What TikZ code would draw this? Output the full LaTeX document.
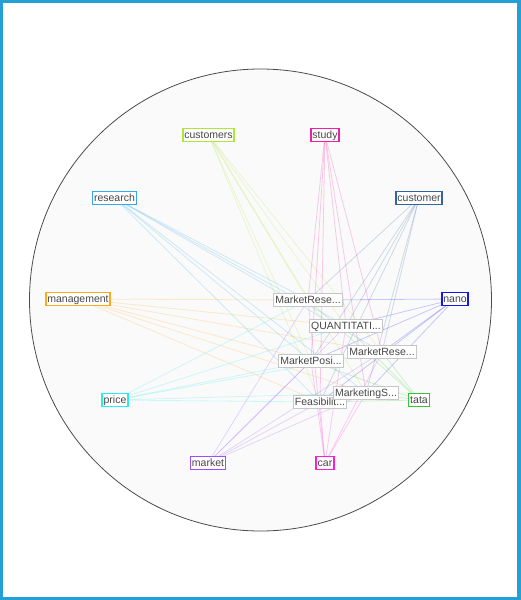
\documentclass[tikz,border=0pt]{standalone}
\usepackage{fontspec}
\setmainfont{Liberation Sans}
\begin{document}
\begin{tikzpicture}[x=1pt,y=-1pt,
  kw/.style={draw=#1, line width=1.7pt, fill=white, text=black!72, inner sep=1.6pt, font=\fontsize{10.5}{12}\selectfont, text height=8pt, text depth=2pt},
  doc/.style={draw=black!22, line width=1.3pt, fill=white, text=black!72, inner sep=1.6pt, font=\fontsize{10.5}{12}\selectfont, text height=8pt, text depth=2pt},
  link/.style={draw=#1, line width=0.8pt, draw opacity=0.22}]
\definecolor{frame}{RGB}{36,160,214}
\definecolor{cCustomers}{RGB}{175,230,60}
\definecolor{cResearch}{RGB}{50,170,235}
\definecolor{cManagement}{RGB}{255,170,30}
\definecolor{cStudy}{RGB}{240,30,160}
\definecolor{cCustomer}{RGB}{50,100,160}
\definecolor{cNano}{RGB}{20,20,240}
\definecolor{cPrice}{RGB}{40,235,235}
\definecolor{cMarket}{RGB}{150,80,255}
\definecolor{cCar}{RGB}{250,30,220}
\definecolor{cTata}{RGB}{50,200,50}
\useasboundingbox (0,0) rectangle (521,600);
\fill[white] (0,0) rectangle (521,600);
\draw[frame, line width=3.4pt] (1.7,1.7) rectangle (519,598.3);
\draw[black!70, line width=0.8pt, fill=black!2] (260.5,300) circle (231);
% documents
\coordinate (d1) at (308,300);
\coordinate (d2) at (346,326);
\coordinate (d3) at (382,352);
\coordinate (d4) at (311,361);
\coordinate (d5) at (366,393);
\coordinate (d6) at (320,402);
% keywords
\coordinate (k1) at (208.5,135);
\coordinate (k2) at (114.5,198);
\coordinate (k3) at (78,299);
\coordinate (k4) at (325,135);
\coordinate (k5) at (419,198);
\coordinate (k6) at (455,299);
\coordinate (k7) at (115,400);
\coordinate (k8) at (208,463);
\coordinate (k9) at (325,463);
\coordinate (k10) at (419,400);
% links
\foreach \k/\c in {k1/cCustomers,k2/cResearch,k3/cManagement,k4/cStudy,k5/cCustomer,k6/cNano,k7/cPrice,k8/cMarket,k9/cCar,k10/cTata}{
  \foreach \d in {d1,d2,d3,d4,d5,d6}{
    \path[link=\c] (\k) -- (\d);
  }
}
% document nodes
\node[doc] (n1) at (d1) {MarketRese...};
\node[doc] (n2) at (d2) {QUANTITATI...};
\node[doc] (n4) at (d4) {MarketPosi...};
\node[doc] (n3) at (d3) {MarketRese...};
\node[doc] (n6) at (d6) {Feasibilit...};
\node[doc] (n5) at (d5) {MarketingS...};
% keyword nodes
\node[kw=cCustomers] (customers) at (k1) {customers};
\node[kw=cResearch] (research) at (k2) {research};
\node[kw=cManagement] (management) at (k3) {management};
\node[kw=cStudy] (study) at (k4) {study};
\node[kw=cCustomer] (customer) at (k5) {customer};
\node[kw=cNano] (nano) at (k6) {nano};
\node[kw=cPrice] (price) at (k7) {price};
\node[kw=cMarket] (market) at (k8) {market};
\node[kw=cCar] (car) at (k9) {car};
\node[kw=cTata] (tata) at (k10) {tata};
\end{tikzpicture}
\end{document}
